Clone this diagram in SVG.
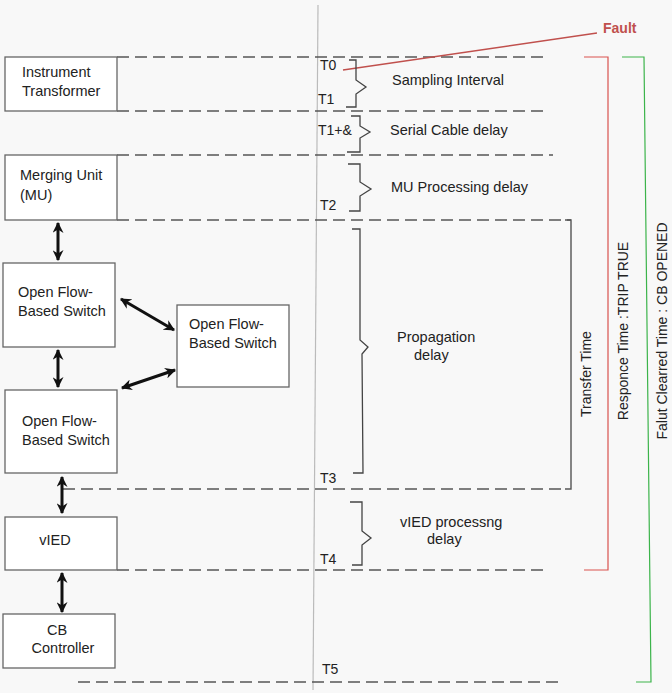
<svg xmlns="http://www.w3.org/2000/svg" width="672" height="693" viewBox="0 0 672 693">
<defs>
<style>
.box{fill:#ffffff;stroke:#666;stroke-width:1.3}
.t{font-family:"Liberation Sans",Arial,sans-serif;font-size:14.5px;fill:#222}
.tl{font-family:"Liberation Sans",Arial,sans-serif;font-size:14px;fill:#222}
.dash{stroke:#555;stroke-width:1.4;stroke-dasharray:12,6;fill:none}
.brace{stroke:#444;stroke-width:1.3;fill:none}
.arr{stroke:#111;stroke-width:3;marker-start:url(#ah);marker-end:url(#ah)}
</style>
<marker id="ah" viewBox="0 0 10 10" refX="9" refY="5" markerWidth="11" markerHeight="11" markerUnits="userSpaceOnUse" orient="auto-start-reverse">
<path d="M0,0 L10,5 L0,10 L3,5 z" fill="#111"/>
</marker>
</defs>
<rect width="672" height="693" fill="#f8f8f8"/>

<g id="timeline">
<line x1="318" y1="5" x2="313" y2="690" stroke="#bbb" stroke-width="1.2"/>
<line class="dash" x1="117" y1="57" x2="547" y2="57"/>
<line class="dash" x1="117" y1="111" x2="547" y2="111"/>
<line class="dash" x1="117" y1="155" x2="553" y2="155"/>
<path class="dash" d="M117,220 L571,220"/>
<path d="M565,220 L571,220 L571,489 L565,489" stroke="#555" stroke-width="1.4" fill="none"/>
<line class="dash" x1="63" y1="489" x2="565" y2="489"/>
<line class="dash" x1="117" y1="570" x2="547" y2="570"/>
<line class="dash" x1="78" y1="682" x2="558" y2="682"/>
<path d="M584,57 L608,57 L608,570 L584,570" stroke="#d9534f" stroke-width="1.2" fill="none"/>
<path d="M622,57 L644,57 L651,682 L636,682" stroke="#3cb44b" stroke-width="1.2" fill="none"/>
<line x1="343" y1="70" x2="597" y2="33" stroke="#c0504d" stroke-width="1.4"/>
<text x="603" y="33" font-family="Liberation Sans,Arial,sans-serif" font-size="14" font-weight="bold" fill="#c0504d">Fault</text>
<text class="tl" x="320" y="70">T0</text>
<text class="tl" x="318" y="104">T1</text>
<text class="tl" x="318" y="135">T1+&amp;</text>
<text class="tl" x="320" y="210">T2</text>
<text class="tl" x="320" y="483">T3</text>
<text class="tl" x="320" y="564">T4</text>
<text class="tl" x="322" y="674">T5</text>
<path class="brace" d="M349,60 L356,60 L356,80 L366,87 L356,94 L356,107 L346,107"/>
<path class="brace" d="M351,116 L360,116 L360,126 L370,132 L360,138 L360,152 L347,152"/>
<path class="brace" d="M348,164 L360,164 L360,182 L371,189 L360,196 L360,211 L349,211"/>
<path class="brace" d="M352,229 L360,229 L360,340 L368,347 L362,354 L363,473 L353,473"/>
<path class="brace" d="M350,502 L362,502 L362,531 L371,538 L362,545 L362,565 L352,565"/>
<text class="t" x="392" y="85">Sampling Interval</text>
<text class="t" x="390" y="135">Serial Cable delay</text>
<text class="t" x="391" y="192">MU Processing delay</text>
<text class="t" x="397" y="342">Propagation</text>
<text class="t" x="414" y="360">delay</text>
<text class="t" x="400" y="527">vIED processng</text>
<text class="t" x="427" y="544">delay</text>
<text class="tl" transform="translate(591,374) rotate(-90)" text-anchor="middle">Transfer Time</text>
<text class="tl" transform="translate(628,331) rotate(-90)" text-anchor="middle">Responce Time :TRIP TRUE</text>
<text class="tl" transform="translate(667,331) rotate(-90)" text-anchor="middle">Falut Clearred Time : CB OPENED</text>
</g>

<g id="instrument-transformer">
<rect class="box" x="5" y="57" width="112" height="54"/>
<text class="t" x="22" y="77">Instrument</text>
<text class="t" x="22" y="96">Transformer</text>
</g>
<g id="merging-unit">
<rect class="box" x="5" y="155" width="112" height="65"/>
<text class="t" x="20" y="180">Merging Unit</text>
<text class="t" x="20" y="200">(MU)</text>
</g>
<g id="ofs1">
<rect class="box" x="3" y="263" width="112" height="84"/>
<text class="t" x="18" y="297">Open Flow-</text>
<text class="t" x="18" y="316">Based Switch</text>
</g>
<g id="ofs2">
<rect class="box" x="177" y="305" width="112" height="82"/>
<text class="t" x="189" y="329">Open Flow-</text>
<text class="t" x="189" y="348">Based Switch</text>
</g>
<g id="ofs3">
<rect class="box" x="5" y="390" width="112" height="83"/>
<text class="t" x="22" y="426">Open Flow-</text>
<text class="t" x="22" y="445">Based Switch</text>
</g>
<g id="vied">
<rect class="box" x="5" y="517" width="112" height="53"/>
<text class="t" x="55" y="545" text-anchor="middle">vIED</text>
</g>
<g id="cb-controller">
<rect class="box" x="3" y="614" width="112" height="54"/>
<text class="t" x="57" y="635" text-anchor="middle">CB</text>
<text class="t" x="63" y="653" text-anchor="middle">Controller</text>
</g>

<g id="connectors">
<line class="arr" x1="58" y1="223" x2="58" y2="260"/>
<line class="arr" x1="121" y1="299" x2="174" y2="330"/>
<line class="arr" x1="58" y1="350" x2="58" y2="387"/>
<line class="arr" x1="122" y1="388" x2="175" y2="370"/>
<line class="arr" x1="62" y1="477" x2="62" y2="513"/>
<line class="arr" x1="62" y1="573" x2="62" y2="612"/>
</g>
</svg>
